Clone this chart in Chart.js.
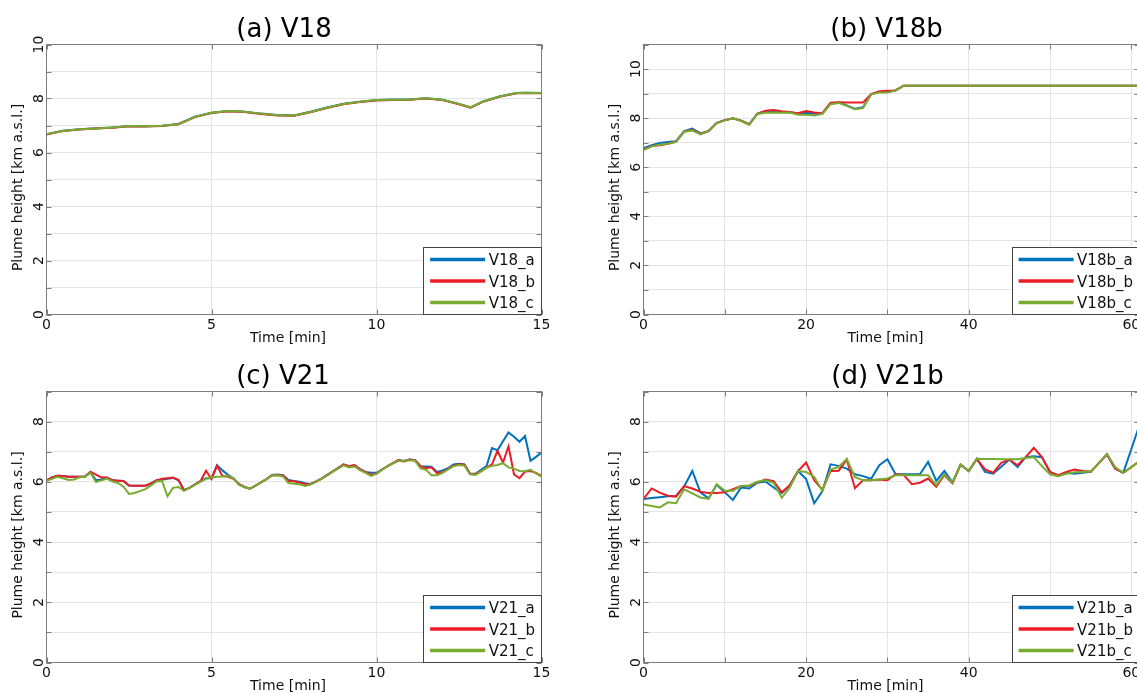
<!DOCTYPE html>
<html>
<head>
<meta charset="utf-8">
<script src="https://cdn.jsdelivr.net/npm/chart.js@4.4.1/dist/chart.umd.min.js"></script>
<style>
  html, body { margin: 0; padding: 0; background: #fff; overflow: hidden; width: 1137px; height: 693px; }
  .cell { position: absolute; }
</style>
</head>
<body>
<div class="cell" id="cA" style="left:0px;top:0px;"><canvas id="chA" width="570" height="347"></canvas></div>
<div class="cell" id="cB" style="left:570px;top:0px;"><canvas id="chB" width="600" height="347"></canvas></div>
<div class="cell" id="cC" style="left:0px;top:347px;"><canvas id="chC" width="570" height="346"></canvas></div>
<div class="cell" id="cD" style="left:570px;top:347px;"><canvas id="chD" width="600" height="346"></canvas></div>
<script>
// ---------------- DATA ----------------
// (a) V18
const timeA = [0,0.5,1,1.5,2,2.5,3,3.5,4,4.5,5,5.5,6,6.5,7,7.5,8,8.5,9,9.5,10,10.5,11,11.5,12,12.5,12.85,13.25,13.75,14.25,14.5,15];
const v18_a = [6.68,6.81,6.86,6.90,6.93,6.98,6.97,6.99,7.06,7.33,7.47,7.54,7.51,7.44,7.39,7.37,7.51,7.67,7.81,7.88,7.94,7.96,7.96,8.01,7.95,7.80,7.67,7.90,8.08,8.20,8.21,8.20];
const v18_b = [6.67,6.80,6.85,6.89,6.92,6.97,6.96,6.98,7.05,7.31,7.46,7.53,7.50,7.43,7.37,7.36,7.49,7.65,7.79,7.87,7.93,7.94,7.95,8.00,7.94,7.79,7.66,7.89,8.07,8.19,8.20,8.19];
const v18_c = [6.68,6.80,6.86,6.89,6.93,6.98,6.97,6.99,7.05,7.32,7.47,7.54,7.51,7.44,7.38,7.37,7.50,7.66,7.80,7.88,7.94,7.95,7.96,8.01,7.95,7.80,7.67,7.90,8.08,8.20,8.21,8.20];

// (b) V18b  (minutes 0..32, then flat to 61)
const timeB = [0,1,2,3,4,5,6,7,8,9,10,11,12,13,14,15,16,17,18,19,20,21,22,23,24,25,26,27,28,29,30,31,32,61];
const v18b_a = [6.78,6.90,6.99,7.03,7.06,7.47,7.57,7.38,7.48,7.81,7.92,7.99,7.90,7.75,8.18,8.27,8.29,8.26,8.24,8.18,8.22,8.18,8.19,8.60,8.64,8.52,8.38,8.44,8.97,9.07,9.09,9.13,9.32,9.32];
const v18b_b = [6.72,6.86,6.90,6.96,7.04,7.45,7.52,7.36,7.47,7.80,7.92,7.99,7.90,7.74,8.18,8.30,8.33,8.28,8.25,8.20,8.29,8.23,8.20,8.63,8.65,8.64,8.64,8.64,8.98,9.10,9.12,9.13,9.32,9.32];
const v18b_c = [6.70,6.85,6.92,6.96,7.03,7.45,7.50,7.34,7.47,7.80,7.90,7.99,7.88,7.73,8.17,8.22,8.23,8.22,8.23,8.14,8.14,8.11,8.18,8.57,8.62,8.50,8.36,8.41,8.97,9.04,9.04,9.12,9.32,9.32];

// (c) V21  (10-second samples, 0..15 min)
const timeC = Array.from({length: 91}, (_, i) => i / 6);
const v21_a = [6.05,6.15,6.20,6.19,6.17,6.17,6.17,6.18,6.32,6.05,
               6.08,6.14,6.05,6.04,6.03,5.88,5.87,5.87,5.87,5.95,
               6.05,6.07,6.10,6.13,6.06,5.72,5.80,5.92,6.02,6.12,
               6.12,6.55,6.38,6.23,6.12,5.92,5.83,5.77,5.87,5.98,
               6.09,6.23,6.24,6.22,6.06,6.03,6.00,5.95,5.93,6.01,
               6.11,6.22,6.34,6.46,6.57,6.51,6.55,6.42,6.33,6.30,
               6.30,6.41,6.52,6.62,6.72,6.69,6.74,6.72,6.52,6.51,
               6.50,6.33,6.38,6.45,6.58,6.60,6.58,6.28,6.27,6.40,
               6.52,7.12,7.05,7.35,7.64,7.50,7.33,7.52,6.70,6.83,
               6.97];
const v21_b = [6.05,6.15,6.20,6.19,6.17,6.17,6.17,6.18,6.34,6.24,
               6.14,6.14,6.05,6.04,6.03,5.88,5.87,5.87,5.87,5.95,
               6.05,6.10,6.12,6.14,6.06,5.72,5.80,5.92,6.02,6.37,
               6.09,6.53,6.19,6.17,6.10,5.92,5.83,5.77,5.87,5.98,
               6.09,6.21,6.23,6.21,6.03,6.02,5.97,5.93,5.92,6.01,
               6.11,6.22,6.34,6.46,6.58,6.52,6.56,6.42,6.32,6.24,
               6.27,6.41,6.52,6.62,6.72,6.68,6.74,6.72,6.52,6.45,
               6.48,6.29,6.32,6.42,6.54,6.58,6.57,6.27,6.26,6.35,
               6.47,6.58,7.03,6.64,7.18,6.25,6.12,6.34,6.36,6.30,
               6.20];
const v21_c = [6.03,6.10,6.17,6.12,6.06,6.08,6.15,6.17,6.30,5.99,
               6.05,6.11,6.01,5.96,5.84,5.60,5.63,5.69,5.76,5.88,
               6.01,6.03,5.52,5.80,5.83,5.70,5.80,5.90,6.00,6.10,
               6.15,6.17,6.18,6.20,6.12,5.90,5.83,5.77,5.87,5.98,
               6.09,6.21,6.22,6.18,5.96,5.94,5.92,5.86,5.91,6.00,
               6.10,6.21,6.33,6.44,6.55,6.48,6.51,6.39,6.30,6.20,
               6.27,6.40,6.51,6.61,6.70,6.70,6.72,6.70,6.45,6.40,
               6.22,6.22,6.30,6.41,6.52,6.56,6.54,6.25,6.23,6.35,
               6.47,6.53,6.56,6.62,6.48,6.44,6.36,6.35,6.40,6.28,
               6.17];

// (d) V21b  (1-minute samples, 0..61 min)
const timeD = Array.from({length: 62}, (_, i) => i);
const v21b_a = [5.43,5.46,5.49,5.52,5.53,5.85,6.36,5.65,5.45,5.90,
                5.65,5.40,5.81,5.78,5.97,6.01,5.81,5.62,5.89,6.36,
                6.09,5.29,5.69,6.58,6.53,6.44,6.25,6.19,6.10,6.55,
                6.75,6.25,6.25,6.25,6.25,6.66,6.03,6.36,5.98,6.57,
                6.36,6.77,6.33,6.27,6.50,6.74,6.49,6.82,6.85,6.82,
                6.32,6.19,6.30,6.27,6.30,6.33,6.62,6.91,6.44,6.30,
                7.09,7.89];
const v21b_b = [5.43,5.78,5.64,5.54,5.51,5.86,5.78,5.67,5.63,5.63,
                5.65,5.76,5.86,5.87,5.98,6.08,6.02,5.65,5.89,6.36,
                6.64,6.05,5.73,6.36,6.37,6.74,5.79,6.05,6.05,6.08,
                6.05,6.25,6.23,5.92,5.97,6.11,5.84,6.22,5.95,6.57,
                6.36,6.75,6.41,6.30,6.63,6.74,6.55,6.82,7.13,6.82,
                6.33,6.22,6.33,6.41,6.36,6.34,6.62,6.91,6.44,6.30,
                6.49,6.69];
const v21b_c = [5.25,5.20,5.15,5.32,5.29,5.75,5.62,5.48,5.43,5.92,
                5.70,5.70,5.86,5.88,6.00,6.05,5.97,5.47,5.81,6.36,
                6.33,6.16,5.70,6.41,6.49,6.76,6.16,6.05,6.05,6.08,
                6.11,6.22,6.22,6.22,6.22,6.22,5.89,6.25,5.97,6.57,
                6.36,6.77,6.76,6.76,6.75,6.75,6.75,6.79,6.82,6.52,
                6.25,6.19,6.27,6.32,6.33,6.34,6.62,6.93,6.49,6.30,
                6.49,6.69];

// tick / grid values
const xGrid15 = [0,5,10,15];
const xLabels15 = [0,5,10,15];
const xGrid61 = [0,10,20,30,40,50,60];
const xLabels61 = [0,20,40,60];
const yGrid10 = [0,1,2,3,4,5,6,7,8,9,10];
const yGrid11 = [0,1,2,3,4,5,6,7,8,9,10,11];
const yGrid9 = [0,1,2,3,4,5,6,7,8,9];
const yLabels10 = [0,2,4,6,8,10];
const yLabels9 = [0,2,4,6,8];

const panelTitles = ['(a) V18', '(b) V18b', '(c) V21', '(d) V21b'];
const xAxisTitle = 'Time [min]';
const yAxisTitle = 'Plume height [km a.s.l.]';

// ---------------- STYLE ----------------
const FONT = '"DejaVu Sans", "Liberation Sans", sans-serif';
const COL_A = '#0072BD', COL_B = '#EC1C24', COL_C = '#77AC30';
const GRID = '#e4e4e4', AXIS = '#7d7d7d', TXT = '#111111';

const panelPlugin = {
  id: 'panel',
  afterDraw(chart, args, o) {
    const {ctx, chartArea: a, scales: {x, y}} = chart;
    ctx.save();
    // frame
    ctx.strokeStyle = AXIS; ctx.lineWidth = 1;
    ctx.strokeRect(a.left, a.top, a.right - a.left, a.bottom - a.top);
    // inward ticks
    ctx.beginPath();
    o.xGrid.forEach(v => {
      const p = Math.round(x.getPixelForValue(v)) + 0.5;
      ctx.moveTo(p, a.bottom); ctx.lineTo(p, a.bottom - 5);
      ctx.moveTo(p, a.top); ctx.lineTo(p, a.top + 5);
    });
    o.yGrid.forEach(v => {
      const p = Math.round(y.getPixelForValue(v)) + 0.5;
      ctx.moveTo(a.left, p); ctx.lineTo(a.left + 5, p);
      ctx.moveTo(a.right, p); ctx.lineTo(a.right - 5, p);
    });
    ctx.stroke();

    ctx.fillStyle = TXT;
    // x tick labels
    ctx.font = '14px ' + FONT;
    ctx.textAlign = 'center'; ctx.textBaseline = 'alphabetic';
    o.xLabels.forEach(v => {
      ctx.fillText(String(v), x.getPixelForValue(v), a.bottom + 14);
    });
    // y tick labels (rotated)
    o.yLabels.forEach(v => {
      const p = y.getPixelForValue(v);
      ctx.save();
      ctx.translate(a.left - 8.5 + 5, p);
      ctx.rotate(-Math.PI / 2);
      ctx.fillText(String(v), 0, 0);
      ctx.restore();
    });
    // axis titles
    ctx.font = '14px ' + FONT;
    ctx.fillText(xAxisTitle, (a.left + a.right) / 2 - 6, a.bottom + 27.6);
    ctx.save();
    ctx.translate(a.left - 28.7 + 3.9, (a.top + a.bottom) / 2 + 8);
    ctx.rotate(-Math.PI / 2);
    ctx.fillText(yAxisTitle, 0, 0);
    ctx.restore();
    // panel title
    ctx.font = '26px ' + FONT;
    ctx.fillStyle = '#000';
    ctx.fillText(o.title, (a.left + a.right) / 2 + o.titleShift, a.top - 7.5);

    // legend
    ctx.font = '15px ' + FONT;
    const labels = chart.data.datasets.map(d => d.label);
    const tw = Math.max(...labels.map(l => ctx.measureText(l).width));
    const lineLen = 55, padL = 7, gap = 3.5, padR = 6.5;
    const bw = padL + lineLen + gap + tw + padR, bh = 68;
    const bx = a.right - bw, by = a.bottom - bh;
    ctx.fillStyle = '#fff';
    ctx.fillRect(bx, by, bw, bh);
    ctx.strokeStyle = '#444'; ctx.lineWidth = 1;
    ctx.strokeRect(Math.round(bx) + 0.5, Math.round(by) + 0.5, a.right - Math.round(bx) - 0.5, a.bottom - Math.round(by) - 0.5);
    chart.data.datasets.forEach((d, i) => {
      const cy = by + 13 + i * 21.5;
      ctx.strokeStyle = d.borderColor; ctx.lineWidth = 3.5;
      ctx.beginPath(); ctx.moveTo(bx + padL, cy); ctx.lineTo(bx + padL + lineLen, cy); ctx.stroke();
      ctx.fillStyle = '#111'; ctx.textAlign = 'left';
      ctx.fillText(d.label, bx + padL + lineLen + gap, cy + 5.5);
    });
    ctx.restore();
  }
};

function series(times, vals) { return times.map((t, i) => ({x: t, y: vals[i]})); }

function makePanel(id, geo, cfg) {
  const canvas = document.getElementById(id);
  canvas.style.width = geo.w + 'px'; canvas.style.height = geo.h + 'px';
  const mk = (label, vals, color, order) => ({
    label, data: series(cfg.times, vals), borderColor: color, backgroundColor: color,
    borderWidth: 2, pointRadius: 0, tension: 0, fill: false, order
  });
  new Chart(canvas, {
    type: 'line',
    data: { datasets: [
      mk(cfg.names[0], cfg.a, COL_A, 3),
      mk(cfg.names[1], cfg.b, COL_B, 2),
      mk(cfg.names[2], cfg.c, COL_C, 1)
    ]},
    options: {
      responsive: false, animation: false, devicePixelRatio: 1,
      layout: { padding: { left: 0, top: geo.top, right: geo.w - geo.right, bottom: 0 } },
      plugins: {
        legend: { display: false }, title: { display: false }, tooltip: { enabled: false },
        panel: { title: cfg.title, titleShift: cfg.titleShift, xGrid: cfg.xGrid, xLabels: cfg.xLabels, yGrid: cfg.yGrid, yLabels: cfg.yLabels }
      },
      scales: {
        x: {
          type: 'linear', min: 0, max: cfg.xMax,
          ticks: { display: false },
          grid: { color: GRID, drawTicks: false, lineWidth: 1 },
          border: { display: false },
          afterBuildTicks: s => { s.ticks = cfg.xGrid.map(v => ({value: v})); },
          afterFit: s => { s.height = geo.h - geo.bottom; }
        },
        y: {
          type: 'linear', min: 0, max: cfg.yMax,
          ticks: { display: false },
          grid: { color: GRID, drawTicks: false, lineWidth: 1 },
          border: { display: false },
          afterBuildTicks: s => { s.ticks = cfg.yGrid.map(v => ({value: v})); },
          afterFit: s => { s.width = geo.left; }
        }
      }
    },
    plugins: [panelPlugin]
  });
}

makePanel('chA', {w: 570, h: 347, left: 46.5, top: 44.5, right: 541.5, bottom: 314.5},
  {title: panelTitles[0], titleShift: -10, times: timeA, a: v18_a, b: v18_b, c: v18_c,
   names: ['V18_a','V18_b','V18_c'], xMax: 15, yMax: 10,
   xGrid: xGrid15, xLabels: xLabels15, yGrid: yGrid10, yLabels: yLabels10});
makePanel('chB', {w: 600, h: 347, left: 73.5, top: 44.5, right: 569.5, bottom: 314.5},
  {title: panelTitles[1], titleShift: -5, times: timeB, a: v18b_a, b: v18b_b, c: v18b_c,
   names: ['V18b_a','V18b_b','V18b_c'], xMax: 61, yMax: 11,
   xGrid: xGrid61, xLabels: xLabels61, yGrid: yGrid11, yLabels: yLabels10});
makePanel('chC', {w: 570, h: 346, left: 46.5, top: 44.5, right: 541.5, bottom: 315.5},
  {title: panelTitles[2], titleShift: -11, times: timeC, a: v21_a, b: v21_b, c: v21_c,
   names: ['V21_a','V21_b','V21_c'], xMax: 15, yMax: 9,
   xGrid: xGrid15, xLabels: xLabels15, yGrid: yGrid9, yLabels: yLabels9});
makePanel('chD', {w: 600, h: 346, left: 73.5, top: 44.5, right: 569.5, bottom: 315.5},
  {title: panelTitles[3], titleShift: -4, times: timeD, a: v21b_a, b: v21b_b, c: v21b_c,
   names: ['V21b_a','V21b_b','V21b_c'], xMax: 61, yMax: 9,
   xGrid: xGrid61, xLabels: xLabels61, yGrid: yGrid9, yLabels: yLabels9});
</script>
</body>
</html>
